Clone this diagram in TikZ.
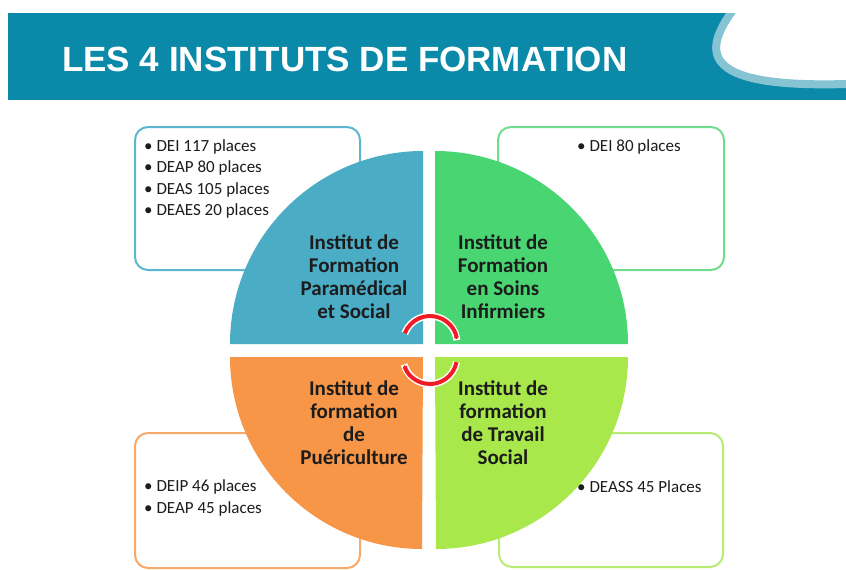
\documentclass[tikz,border=0pt]{standalone}
\usepackage{fontspec}
\setmainfont{Carlito}
\newfontfamily\titlefont{Liberation Sans}
\usetikzlibrary{arrows.meta}
\definecolor{banner}{HTML}{0A8AA8}
\definecolor{swoosh}{HTML}{86C3D3}
\definecolor{qblue}{HTML}{4BACC6}
\definecolor{qgreen}{HTML}{4AD573}
\definecolor{qorange}{HTML}{F79646}
\definecolor{qlime}{HTML}{A9E84B}
\definecolor{bblue}{HTML}{5DB6D0}
\definecolor{bgreen}{HTML}{72DC8E}
\definecolor{borange}{HTML}{F7A96A}
\definecolor{blime}{HTML}{B7EC72}
\definecolor{txt}{HTML}{1C1C1C}
\definecolor{cyc}{HTML}{EE1C25}
\tikzset{
  infobox/.style={line width=2pt, rounded corners=13pt, fill=white},
  quadtext/.style={align=center, text=txt, inner sep=0pt, font=\bfseries\fontsize{21}{23}\selectfont},
  listtext/.style={align=left, anchor=west, text=txt, inner sep=0pt, font=\fontsize{17}{21.5}\selectfont},
  cycarrow/.style={draw=cyc, line width=4pt, -{Triangle[length=2.5pt,width=5.5pt]}},
  cychalo/.style={draw=white, line width=7pt}
}
\begin{document}
\begin{tikzpicture}[x=1pt,y=-1pt]
\useasboundingbox (0,0) rectangle (846,570);
% banner
\fill[banner] (8,13) rectangle (846,100);
\begin{scope}
  \clip (8,13) rectangle (846,100);
  \fill[white] (733,13) .. controls (700,55) and (705,88) .. (846,84) -- (846,13) -- cycle;
  \draw[swoosh, line width=8pt] (733,10) .. controls (700,55) and (705,88) .. (846,84);
\end{scope}
\node[anchor=west, inner sep=0pt, text=white, font=\titlefont\bfseries\fontsize{35}{40}\selectfont] (title) at (62,59) {LES 4 INSTITUTS DE FORMATION};
% boxes
\draw[infobox, draw=bblue] (135,127) rectangle (360,270);
\draw[infobox, draw=bgreen] (498,127) rectangle (724,270);
\draw[infobox, draw=borange] (135,433) rectangle (360,568);
\draw[infobox, draw=blime] (499,433) rectangle (723,567);
\node[listtext] (l1) at (144,179) {\textbullet~DEI 117 places\\\textbullet~DEAP 80 places\\\textbullet~DEAS 105 places\\\textbullet~DEAES 20 places};
\node[listtext] (l2) at (577,147) {\textbullet~DEI 80 places};
\node[listtext] (l3) at (144,498) {\textbullet~DEIP 46 places\\\textbullet~DEAP 45 places};
\node[listtext] (l4) at (577,487) {\textbullet~DEASS 45 Places};
% quadrants
\fill[qblue] (423,344) -- (230,344) arc[start angle=180, end angle=270, radius=193] -- cycle;
\fill[qgreen] (435,344) -- (435,151) arc[start angle=270, end angle=360, radius=193] -- cycle;
\fill[qorange] (423,357) -- (230,357) arc[start angle=180, end angle=90, radius=192] -- cycle;
\fill[qlime] (435,357) -- (628,357) arc[start angle=0, end angle=90, radius=192] -- cycle;
\node[quadtext] (q1) at (354,277) {Institut de\\Formation\\Paramédical\\et Social};
\node[quadtext] (q2) at (503,277) {Institut de\\Formation\\en Soins\\Infirmiers};
\node[quadtext] (q3) at (354,423) {Institut de\\formation\\de\\Puériculture};
\node[quadtext] (q4) at (503,423) {Institut de\\formation\\de Travail\\Social};
% cycle arrows
\draw[cychalo] (430,343) ++(201:27) arc[start angle=201, end angle=354, radius=27];
\draw[cychalo] (430,357) ++(11:27) arc[start angle=11, end angle=164, radius=27];
\draw[cycarrow] (430,343) ++(201:27) arc[start angle=201, end angle=352, radius=27];
\draw[cycarrow] (430,357) ++(11:27) arc[start angle=11, end angle=162, radius=27];
\end{tikzpicture}
\end{document}
